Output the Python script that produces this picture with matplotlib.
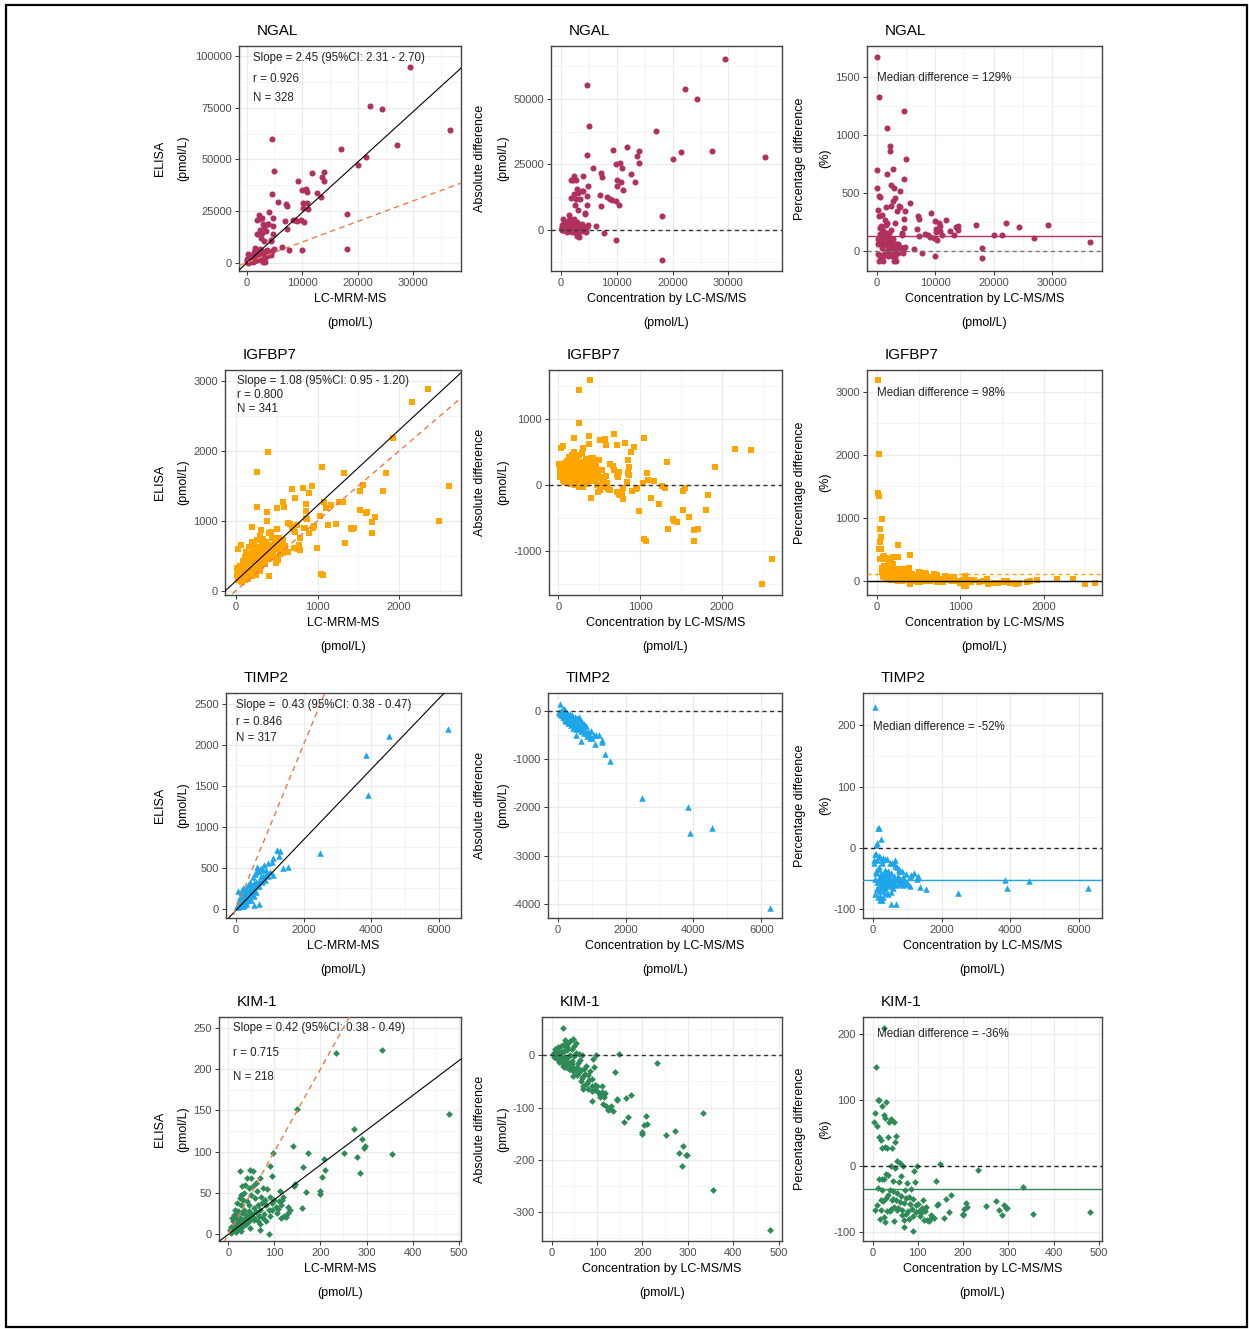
import matplotlib.pyplot as plt
from matplotlib.ticker import MultipleLocator, AutoMinorLocator
from matplotlib.patches import Rectangle

plt.rcParams['font.family'] = ['Liberation Sans', 'DejaVu Sans']
plt.rcParams['axes.unicode_minus'] = False

proteins = ["NGAL", "IGFBP7", "TIMP2", "KIM-1"]

# LC-MRM-MS (x) and ELISA (y) values, pmol/L
ngal_lcms = [29300, 22200, 24400, 36600, 27000, 17000, 21500, 20100, 4600, 5000, 11800, 13900, 13600, 13900,
             9300, 10600, 9900, 10900, 12600, 13300, 4600, 5700, 7100, 10100, 10800, 10100, 11100, 4000, 2300,
             2700, 1800, 4800, 6900, 8300, 8700, 9800, 10300, 18100, 3800, 4700, 3100, 2400, 7200, 2700, 4700,
             1800, 2500, 3100, 4300, 18100, 9900, 7700, 6300, 4900, 3700, 3000, 9100, 7300, 4300, 3900, 3400,
             2900, 2200, 100, 300, 100, 100, 200, 300, 400, 500, 600, 700, 800, 900, 1000, 1100, 1200, 1300,
             1400, 1500, 1600, 1700, 1800, 1900, 2000, 2100, 2200, 2300, 2400, 2500, 2600, 2700, 2800, 2900,
             3000, 3100, 3200, 3300, 3500, 3700, 3900, 4200, 4400, 4600, 300, 1100, 2900, 3300, 250, 450, 650,
             850, 1050, 1250, 1450, 1650, 1850, 2050, 2250, 2450, 2650, 2850, 3050, 3150, 500, 150, 200, 1350,
             1750, 2350, 1600, 800, 600, 400, 1500]
ngal_elisa = [94700, 76000, 74300, 64200, 57100, 54900, 51000, 47200, 59900, 44500, 43500, 44000, 41600, 39500,
              39600, 35900, 35100, 34300, 33800, 31600, 33200, 29400, 28600, 29000, 29000, 26700, 26200, 24600,
              23000, 21800, 20900, 21400, 20100, 20600, 20600, 20600, 19700, 23500, 18600, 17600, 17200, 16000,
              16200, 14400, 14100, 13800, 12100, 10500, 10800, 6500, 6000, 6300, 7600, 6800, 6000, 4400, 20400,
              27400, 10300, 18700, 15200, 18600, 21100, 1770, 4280, 800, 640, 900, 1200, 700, 1500, 400, 2200,
              1000, 2600, 600, 1800, 3200, 900, 2400, 3800, 1500, 2800, 4200, 1100, 3000, 5300, 1900, 3600,
              2600, 4700, 1500, 3300, 5600, 2400, 3900, 1600, 5000, 2900, 4200, 3000, 5200, 4500, 3600, 5800,
              50, 170, 450, 500, 400, 1100, 1300, 1700, 2500, 2000, 1300, 3500, 2500, 2200, 4500, 3800, 2200,
              3000, 2800, 3400, 300, 300, 150, 5000, 6000, 6500, 5200, 3300, 3400, 2300, 7200]

igfbp7_lcms = [2350, 2155, 1918, 393, 254, 1051, 1325, 1836, 2613, 928, 818, 683, 891, 720, 573, 1521, 1554,
               1521, 1603, 1800, 254, 380, 589, 507, 855, 1084, 1268, 1166, 1309, 1100, 1035, 859, 855, 376,
               634, 744, 834, 949, 1133, 1227, 1419, 1448, 1665, 1706, 1665, 2491, 990, 1337, 1043, 1072, 401,
               785, 724, 744, 581, 520, 458, 425, 307, 192, 714, 776, 755, 788, 845, 869, 714, 682, 665, 960,
               900, 1408, 1592, 10, 28, 15, 20, 60, 32, 45, 50, 38, 25, 40, 55, 65, 70, 80, 85, 90, 95, 100,
               105, 110, 115, 120, 125, 130, 135, 140, 145, 150, 155, 160, 165, 170, 175, 180, 185, 190, 195,
               200, 205, 210, 215, 220, 225, 230, 235, 240, 245, 250, 255, 260, 265, 270, 275, 280, 285, 290,
               295, 300, 305, 310, 315, 320, 325, 330, 335, 340, 345, 350, 355, 360, 370, 380, 390, 400, 410,
               420, 430, 440, 450, 460, 470, 480, 490, 500, 510, 520, 530, 540, 550, 560, 570, 580, 590, 600,
               612, 633, 510, 490, 75, 60, 110, 150, 200, 250, 300]
igfbp7_elisa = [2890, 2700, 2190, 1989, 1693, 1765, 1679, 1688, 1502, 1502, 1464, 1454, 1402, 1330, 1273, 1431,
                1512, 1154, 1130, 1431, 1202, 1121, 1202, 1188, 1235, 1273, 1264, 1226, 1264, 1178, 1073, 1140,
                1044, 997, 963, 940, 892, 901, 940, 949, 882, 892, 987, 1049, 820, 997, 606, 677, 234, 224, 210,
                749, 844, 606, 558, 653, 749, 844, 868, 916, 613, 660, 603, 585, 896, 1031, 866, 910, 959, 920,
                820, 902, 1111, 328, 593, 225, 290, 650, 292, 360, 300, 270, 150, 180, 240, 200, 330, 270, 420,
                190, 320, 250, 480, 360, 210, 300, 560, 420, 260, 340, 500, 380, 240, 450, 620, 330, 280, 520,
                400, 700, 350, 470, 270, 580, 420, 330, 650, 500, 380, 560, 300, 450, 720, 520, 400, 620, 340,
                480, 560, 420, 780, 540, 360, 600, 460, 680, 520, 420, 740, 580, 480, 640, 380, 520, 700, 600,
                460, 820, 560, 660, 500, 760, 540, 620, 480, 700, 600, 880, 440, 640, 760, 520, 600, 680, 540,
                720, 580, 640, 560, 560, 460, 390, 120, 140, 150, 170, 210, 230, 280]

timp2_lcms = [6270, 4540, 3850, 3910, 2490, 1205, 1304, 1285, 1107, 1067, 1532, 1383, 1087, 632, 761, 534, 682,
              65, 150, 175, 220, 40, 60, 70, 90, 100, 110, 120, 130, 140, 150, 160, 170, 180, 190, 200, 210,
              220, 230, 240, 250, 260, 270, 280, 290, 300, 310, 320, 330, 340, 350, 360, 370, 380, 390, 400,
              420, 440, 460, 480, 500, 520, 540, 560, 580, 600, 620, 650, 680, 700, 730, 760, 800, 830, 870,
              900, 950, 1000, 840, 888, 960, 25, 50, 80, 120, 160, 200, 250, 300, 350, 400, 450, 500, 550, 600,
              650, 700, 750, 380, 450, 520, 300, 250, 200, 100, 130]
timp2_elisa = [2190, 2110, 1870, 1390, 679, 720, 707, 638, 618, 569, 508, 496, 407, 508, 496, 49, 61, 215, 200,
               232, 253, 30, 30, 18, 81, 60, 39, 96, 59, 28, 98, 80, 51, 126, 76, 110, 32, 99, 138, 84, 125, 195,
               108, 154, 87, 135, 186, 160, 132, 221, 123, 180, 167, 209, 156, 240, 189, 220, 175, 264, 225, 312,
               227, 280, 203, 330, 279, 325, 272, 336, 402, 319, 400, 374, 348, 423, 399, 450, 528, 472, 560,
               20, 45, 50, 40, 140, 170, 200, 250, 290, 330, 280, 380, 420, 450, 460, 480, 470, 100, 110, 150,
               60, 40, 45, 105, 140]

kim1_lcms = [333, 233, 480, 149, 272, 290, 251, 297, 295, 280, 355, 286, 140, 98, 174, 207, 209, 203, 163, 199,
             199, 159, 169, 91, 94, 145, 143, 25, 47, 53, 89, 69, 112, 116, 3, 5, 6, 8, 10, 10, 12, 12, 14, 15,
             15, 16, 18, 19, 20, 20, 22, 24, 25, 25, 26, 28, 29, 30, 30, 32, 33, 34, 35, 36, 38, 40, 40, 40, 42,
             44, 45, 46, 48, 50, 50, 52, 54, 55, 56, 58, 60, 60, 62, 64, 66, 68, 70, 72, 74, 76, 78, 80, 82, 85,
             88, 90, 95, 100, 103, 106, 110, 115, 120, 125, 130, 28, 35, 45, 22, 18, 38, 55, 65, 75, 90, 70, 48,
             27, 129, 135, 114, 96, 81, 107, 118]
kim1_elisa = [223, 219, 146, 152, 127, 116, 98, 107, 105, 94, 97, 74, 107, 98, 98, 91, 78, 69, 82, 53, 49, 32,
              51, 83, 71, 61, 58, 77, 78, 77, 1, 5, 53, 41, 5, 9, 2, 20, 4, 16, 8, 24, 20, 12, 30, 3, 25, 9, 16,
              38, 28, 11, 20, 44, 6, 36, 15, 26, 59, 10, 42, 19, 30, 60, 24, 14, 40, 68, 20, 56, 28, 35, 18, 48,
              68, 25, 58, 32, 20, 44, 27, 62, 52, 35, 22, 68, 30, 45, 38, 56, 25, 42, 35, 55, 30, 45, 38, 42, 33,
              26, 40, 36, 22, 21, 33, 48, 50, 22, 14, 6, 12, 18, 16, 20, 22, 12, 8, 4, 26, 29, 20, 29, 16, 31, 45]

lcms_values = [ngal_lcms, igfbp7_lcms, timp2_lcms, kim1_lcms]
elisa_values = [ngal_elisa, igfbp7_elisa, timp2_elisa, kim1_elisa]

reg_slope = [2.45, 1.08, 0.43, 0.42]
reg_intercept = [-200, 140, -20, 0]
slope_labels = ["Slope = 2.45 (95%CI: 2.31 - 2.70)", "Slope = 1.08 (95%CI: 0.95 - 1.20)",
                "Slope =  0.43 (95%CI: 0.38 - 0.47)", "Slope = 0.42 (95%CI: 0.38 - 0.49)"]
r_labels = ["r = 0.926", "r = 0.800", "r = 0.846", "r = 0.715"]
n_labels = ["N = 328", "N = 341", "N = 317", "N = 218"]
median_diff = [129, 98, -52, -36]

colors = ["#B0305E", "#FFA500", "#1FA6EA", "#2E8B57"]
markers = ["o", "s", "^", "D"]
msizes = [19, 19, 22, 12]

# ---- layout (pixels in the 1249x1329 image) ----
W, H = 1249, 1329
row_top = [46, 370, 693, 1017]
row_bot = [271, 595, 918, 1241]
col_left = [[239, 551, 867], [225, 549, 867], [226, 548, 863], [219, 542, 863]]
col_right = [461, 782, 1102]

xlims = [[(-1380, 38560), (-1800, 39600), (-1700, 38600)],
         [(-135, 2757), (-114, 2735), (-120, 2700)],
         [(-296, 6660), (-296, 6614), (-293, 6683)],
         [(-20, 505), (-21, 507), (-21, 507)]]
ylims = [[(-4050, 105000), (-15800, 70200), (-172, 1764)],
         [(-62, 3157), (-1661, 1747), (-228, 3346)],
         [(-114, 2630), (-4298, 381), (-114, 253)],
         [(-8, 263), (-355, 73), (-114, 225)]]
xstep = [10000, 1000, 2000, 100]
ystep = [[25000, 25000, 500], [1000, 1000, 1000], [500, 1000, 100], [50, 100, 100]]
stat_y = [[0.053, 0.147, 0.231], [0.049, 0.111, 0.173], [0.053, 0.129, 0.2], [0.05, 0.16, 0.27]]
stat_x = [0.063, 0.05, 0.042, 0.057]
med_pos = [(0.043, 0.142), (0.043, 0.10), (0.042, 0.151), (0.06, 0.077)]

xlabels = ["LC-MRM-MS", "Concentration by LC-MS/MS", "Concentration by LC-MS/MS"]
ylabels = ["ELISA", "Absolute difference", "Percentage difference"]
yunits = ["(pmol/L)", "(pmol/L)", "(%)"]
ylab_x = [[160, 183], [480, 503], [800, 825]]

fig = plt.figure(figsize=(W / 100, H / 100), dpi=100)
fig.patches.append(Rectangle((6 / W, 1 - 1327 / H), 1241 / W, 1322 / H, transform=fig.transFigure,
                             fill=False, edgecolor="black", linewidth=1.6))


def style_axes(ax, r, c):
    ax.set_xlim(*xlims[r][c])
    ax.set_ylim(*ylims[r][c])
    ax.xaxis.set_major_locator(MultipleLocator(xstep[r]))
    ax.yaxis.set_major_locator(MultipleLocator(ystep[r][c]))
    ax.xaxis.set_minor_locator(AutoMinorLocator(2))
    ax.yaxis.set_minor_locator(AutoMinorLocator(2))
    ax.grid(which="major", color="#EBEBEB", linewidth=0.9)
    ax.grid(which="minor", color="#F2F2F2", linewidth=0.6)
    ax.set_axisbelow(True)
    ax.tick_params(which="major", length=3, width=0.7, color="#333333", labelsize=8,
                   labelcolor="#4D4D4D", pad=2)
    ax.tick_params(which="minor", length=0)
    for s in ax.spines.values():
        s.set_color("#444444")
        s.set_linewidth(1.0)


for r in range(4):
    lc = lcms_values[r]
    el = elisa_values[r]
    absdiff = [e - l for l, e in zip(lc, el)]
    pctdiff = [(e - l) / l * 100 for l, e in zip(lc, el)]
    panels_y = [el, absdiff, pctdiff]
    for c in range(3):
        left = col_left[r][c]
        ax = fig.add_axes([left / W, 1 - row_bot[r] / H, (col_right[c] - left) / W,
                           (row_bot[r] - row_top[r]) / H])
        style_axes(ax, r, c)
        ax.scatter(lc, panels_y[c], s=msizes[r], marker=markers[r], color=colors[r],
                   linewidths=0, zorder=3)
        xl = ax.get_xlim()
        if c == 0:
            ax.plot(xl, [reg_slope[r] * v + reg_intercept[r] for v in xl], color="black",
                    linewidth=0.8, zorder=4)
            ax.plot(xl, xl, color="#EE7A45", linestyle=(0, (4, 3)), linewidth=1.0, zorder=4)
            ax.set_xlim(*xl)
            for k, txt in enumerate([slope_labels[r], r_labels[r], n_labels[r]]):
                ax.text(stat_x[r], 1 - stat_y[r][k], txt, transform=ax.transAxes, fontsize=8.3,
                        va="center", ha="left", color="#222222", zorder=5)
        elif c == 1:
            ax.axhline(0, color="#333333", linestyle=(0, (3, 2.5)), linewidth=1.0, zorder=4)
        else:
            if r == 1:
                ax.axhline(0, color="black", linewidth=1.0, zorder=4)
                ax.axhline(median_diff[r], color=colors[r], linestyle=(0, (3, 2.5)),
                           linewidth=1.0, zorder=4)
            else:
                zc = "#777777" if r == 0 else "#222222"
                ax.axhline(0, color=zc, linestyle=(0, (3, 2.5)), linewidth=1.0, zorder=4)
                ax.axhline(median_diff[r], color=colors[r], linewidth=1.0, zorder=4)
            ax.text(med_pos[r][0], 1 - med_pos[r][1], "Median difference = %d%%" % median_diff[r],
                    transform=ax.transAxes, fontsize=8.3, va="center", ha="left", color="#222222",
                    zorder=5)

        # title, axis titles
        fig.text((left + 18) / W, 1 - (row_top[r] - 15) / H, proteins[r], fontsize=11,
                 ha="left", va="center")
        cx = (left + col_right[c]) / 2
        fig.text(cx / W, 1 - (row_bot[r] + 28) / H, xlabels[c], fontsize=9, ha="center", va="center")
        fig.text(cx / W, 1 - (row_bot[r] + 52) / H, "(pmol/L)", fontsize=9, ha="center", va="center")
        cy = (row_top[r] + row_bot[r]) / 2
        fig.text(ylab_x[c][0] / W, 1 - cy / H, ylabels[c], fontsize=9, rotation=90,
                 ha="center", va="center")
        fig.text(ylab_x[c][1] / W, 1 - cy / H, yunits[c], fontsize=9, rotation=90,
                 ha="center", va="center")

fig.savefig("out.png", dpi=100)
